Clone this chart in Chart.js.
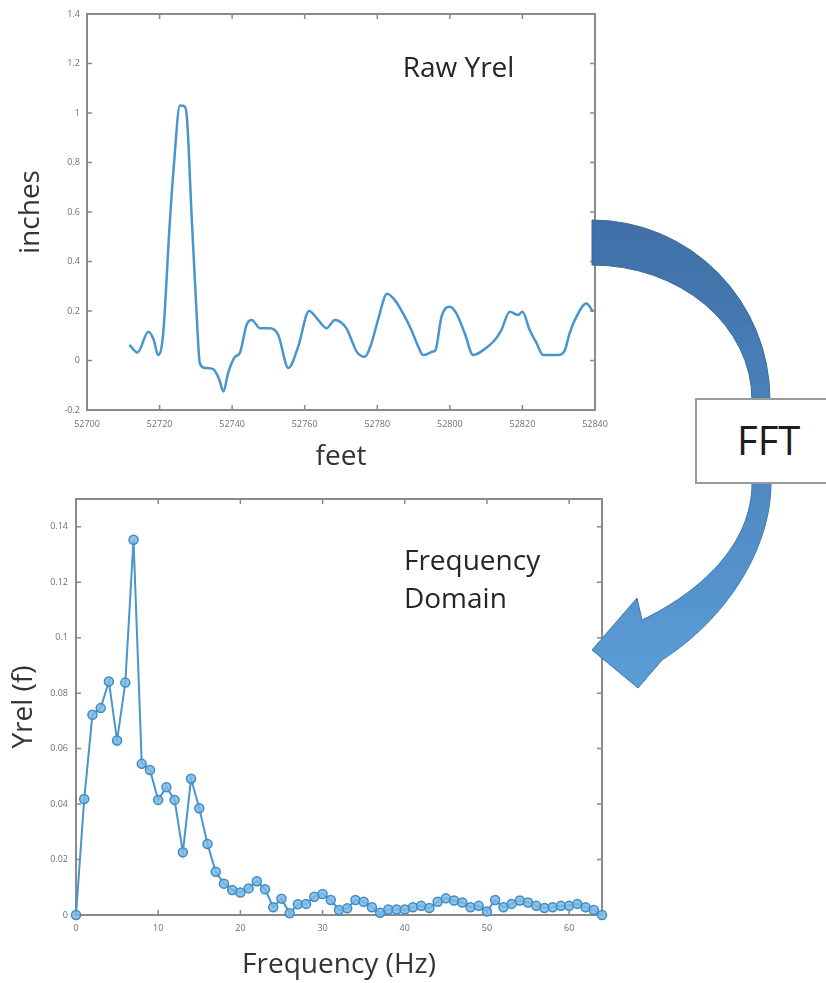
<!DOCTYPE html>
<html>
<head>
<meta charset="utf-8">
<script src="https://cdn.jsdelivr.net/npm/chart.js@4"></script>
<style>
  html, body { margin: 0; padding: 0; background: #fff; }
  body { width: 826px; height: 983px; position: relative; overflow: hidden; font-family: 'Open Sans', sans-serif; }
  #raw { position: absolute; left: 0; top: 0; }
  #freq { position: absolute; left: 0; top: 480px; }
  #arrow { position: absolute; left: 0; top: 0; }
  #fftBox {
    position: absolute; left: 695px; top: 398px; width: 140px; height: 82px;
    border: 2px solid #9a9a9a; background: #fff; box-sizing: content-box;
  }
  #fftBox span {
    position: absolute; left: 40px; top: 18px; font-size: 40px; line-height: 44px; color: #1c1c1c;
  }
</style>
</head>
<body>
<canvas id="raw" width="620" height="480"></canvas>
<canvas id="freq" width="620" height="503"></canvas>
<svg id="arrow" width="826" height="983">
  <defs>
    <linearGradient id="blueGrad" gradientUnits="userSpaceOnUse" x1="0" y1="220" x2="0" y2="690">
      <stop offset="0" stop-color="#3f6fa6"/>
      <stop offset="1" stop-color="#5c9dd8"/>
    </linearGradient>
  </defs>
  <path d="M 592 220 A 178 180 0 0 1 770 400 L 752 400 A 160 135 0 0 0 592 265 Z"
        fill="url(#blueGrad)" stroke="#3a6896" stroke-width="1"/>
  <path d="M 752 483 L 771 483 C 771 550, 725 620, 662 660 L 638 688 L 592 650 L 637 598 L 642 620 C 700 592, 752 545, 752 483 Z"
        fill="url(#blueGrad)" stroke="#3f78b0" stroke-width="1"/>
</svg>
<div id="fftBox"><span>FFT</span></div>
<script>
// ---- raw Yrel (top plot) ----
const rawFeet = [52711.7, 52713.9, 52716.9, 52718.4, 52719.6, 52721.0, 52722.7, 52724.0, 52725.6, 52727.0,
  52727.6, 52728.8, 52730.2, 52731.1, 52732.5, 52734.8, 52736.4, 52737.6, 52738.9, 52740.8,
  52742.1, 52744.0, 52745.4, 52747.7, 52750.4, 52752.7, 52755.5, 52758.2, 52761.2, 52763.7,
  52766.0, 52768.3, 52771.5, 52772.9, 52774.3, 52776.6, 52778.4, 52780.2, 52782.7, 52784.8,
  52787.1, 52789.4, 52791.3, 52792.6, 52795.4, 52796.0, 52797.7, 52800.0, 52801.8, 52804.1,
  52806.4, 52809.2, 52812.4, 52814.2, 52816.5, 52818.8, 52820.0, 52822.0, 52823.9, 52825.7,
  52829.8, 52831.7, 52833.0, 52834.9, 52837.6, 52839.5];
const rawInches = [0.063, 0.032, 0.116, 0.083, 0.022, 0.11, 0.53, 0.80, 1.03, 1.025,
  0.97, 0.595, 0.19, -0.011, -0.03, -0.035, -0.075, -0.125, -0.05, 0.015,
  0.03, 0.145, 0.164, 0.13, 0.13, 0.103, -0.03, 0.056, 0.2, 0.164,
  0.13, 0.164, 0.13, 0.083, 0.036, 0.015, 0.07, 0.164, 0.27, 0.245,
  0.19, 0.123, 0.056, 0.022, 0.036, 0.04, 0.177, 0.217, 0.19, 0.11,
  0.022, 0.042, 0.083, 0.123, 0.197, 0.184, 0.197, 0.123, 0.07, 0.022,
  0.022, 0.042, 0.11, 0.177, 0.23, 0.197];
const rawXTicks = [52700, 52720, 52740, 52760, 52780, 52800, 52820, 52840];
const rawYTicks = [-0.2, 0, 0.2, 0.4, 0.6, 0.8, 1, 1.2, 1.4];

// ---- FFT magnitude (bottom plot), one point per Hz ----
const freqHz = [];
for (let f = 0; f <= 64; f++) freqHz.push(f);
const freqYrel = [0, 0.0418, 0.0722, 0.0746, 0.0842, 0.0629, 0.0838, 0.1353, 0.0545, 0.0523,
  0.0415, 0.0461, 0.0415, 0.0226, 0.0491, 0.0385, 0.0256, 0.0156, 0.0113, 0.009,
  0.0081, 0.0096, 0.0122, 0.0093, 0.0028, 0.0059, 0.0006, 0.0039, 0.004, 0.0066,
  0.0076, 0.0054, 0.0018, 0.0024, 0.0054, 0.0048, 0.0028, 0.0008, 0.002, 0.002,
  0.002, 0.0028, 0.0033, 0.0025, 0.0048, 0.006, 0.0052, 0.0045, 0.0028, 0.0033,
  0.0013, 0.0054, 0.0028, 0.004, 0.0052, 0.0045, 0.0033, 0.0025, 0.0028, 0.0033,
  0.0033, 0.004, 0.0028, 0.0018, 0];
const freqXTicks = [0, 10, 20, 30, 40, 50, 60];
const freqYTicks = [0, 0.02, 0.04, 0.06, 0.08, 0.1, 0.12, 0.14];

const FONT = "'Open Sans', sans-serif";
const axisGray = '#8a8a8a';
const tickGray = '#6f6f6f';
const lineBlue = 'rgb(72,150,202)';

// matlab-style box with inward ticks on all four sides, plus free text notes
const matlabBox = {
  id: 'matlabBox',
  beforeDatasetsDraw(chart, args, opts) {
    const {ctx, chartArea: a, scales: {x, y}} = chart;
    ctx.save();
    ctx.strokeStyle = axisGray;
    ctx.lineWidth = 2;
    ctx.strokeRect(a.left, a.top, a.right - a.left, a.bottom - a.top);
    ctx.lineWidth = 1.5;
    ctx.beginPath();
    for (const t of x.ticks) {
      const px = x.getPixelForValue(t.value);
      ctx.moveTo(px, a.bottom); ctx.lineTo(px, a.bottom - 5);
      ctx.moveTo(px, a.top); ctx.lineTo(px, a.top + 5);
    }
    for (const t of y.ticks) {
      const py = y.getPixelForValue(t.value);
      ctx.moveTo(a.left, py); ctx.lineTo(a.left + 5, py);
      ctx.moveTo(a.right, py); ctx.lineTo(a.right - 5, py);
    }
    ctx.stroke();
    ctx.fillStyle = '#262626';
    ctx.font = '28px ' + FONT;
    ctx.textBaseline = 'alphabetic';
    for (const n of opts.notes || []) {
      ctx.fillText(n.text, x.getPixelForValue(n.x), y.getPixelForValue(n.y));
    }
    ctx.restore();
  }
};

function fmt(v) { return String(+Number(v).toFixed(3)); }

function axisOpts(ticks, min, max, title, extra) {
  return Object.assign({
    type: 'linear', min: min, max: max,
    afterBuildTicks: s => { s.ticks = ticks.map(v => ({value: v})); },
    grid: {display: false, drawTicks: false},
    border: {display: false},
    ticks: {font: {family: FONT, size: 9}, color: tickGray, callback: fmt, autoSkip: false, maxRotation: 0},
    title: {display: true, text: title, color: '#333', font: {family: FONT, size: 28}}
  }, extra);
}

new Chart(document.getElementById('raw'), {
  type: 'line',
  data: {
    datasets: [{
      data: rawFeet.map((f, i) => ({x: f, y: rawInches[i]})),
      borderColor: lineBlue,
      borderWidth: 2.5,
      pointRadius: 0,
      cubicInterpolationMode: 'monotone',
      fill: false
    }]
  },
  options: {
    responsive: false,
    animation: false,
    layout: {padding: {top: 14, right: 25, left: 0, bottom: 0}},
    plugins: {
      legend: {display: false},
      tooltip: {enabled: false},
      matlabBox: {notes: [{text: 'Raw Yrel', x: 52787, y: 1.145}]}
    },
    scales: {
      x: axisOpts(rawXTicks, 52700, 52840, 'feet', {}),
      y: axisOpts(rawYTicks, -0.2, 1.4, 'inches', {})
    }
  },
  plugins: [matlabBox]
});
const rawChart = Chart.getChart('raw');
rawChart.options.scales.x.afterFit = s => { s.height = 70; };
rawChart.options.scales.x.ticks.padding = 9;
rawChart.options.scales.x.title.padding = {top: 0, bottom: 6};
rawChart.options.scales.y.afterFit = s => { s.width = 87; };
rawChart.options.scales.y.ticks.padding = 7;
rawChart.options.scales.y.title.padding = {top: 14, bottom: 0};
rawChart.update();

new Chart(document.getElementById('freq'), {
  type: 'line',
  data: {
    datasets: [{
      data: freqHz.map((f, i) => ({x: f, y: freqYrel[i]})),
      borderColor: lineBlue,
      borderWidth: 2,
      pointRadius: 4.5,
      pointBorderWidth: 1.5,
      pointBorderColor: 'rgb(62,140,198)',
      pointBackgroundColor: 'rgba(125,185,228,0.85)',
      tension: 0,
      clip: false,
      fill: false
    }]
  },
  options: {
    responsive: false,
    animation: false,
    layout: {padding: {top: 19, right: 18, left: 0, bottom: 0}},
    plugins: {
      legend: {display: false},
      tooltip: {enabled: false},
      matlabBox: {notes: [
        {text: 'Frequency', x: 39.9, y: 0.1245},
        {text: 'Domain', x: 39.9, y: 0.1108}
      ]}
    },
    scales: {
      x: axisOpts(freqXTicks, 0, 64, 'Frequency (Hz)', {}),
      y: axisOpts(freqYTicks, 0, 0.15, 'Yrel (f)', {})
    }
  },
  plugins: [matlabBox]
});
const freqChart = Chart.getChart('freq');
freqChart.options.scales.x.afterFit = s => { s.height = 68; };
freqChart.options.scales.x.ticks.padding = 8;
freqChart.options.scales.x.title.padding = {top: 0, bottom: 1};
freqChart.options.scales.y.afterFit = s => { s.width = 76; };
freqChart.options.scales.y.ticks.padding = 8;
freqChart.options.scales.y.title.padding = {top: 7, bottom: 0};
freqChart.update();
</script>
</body>
</html>
